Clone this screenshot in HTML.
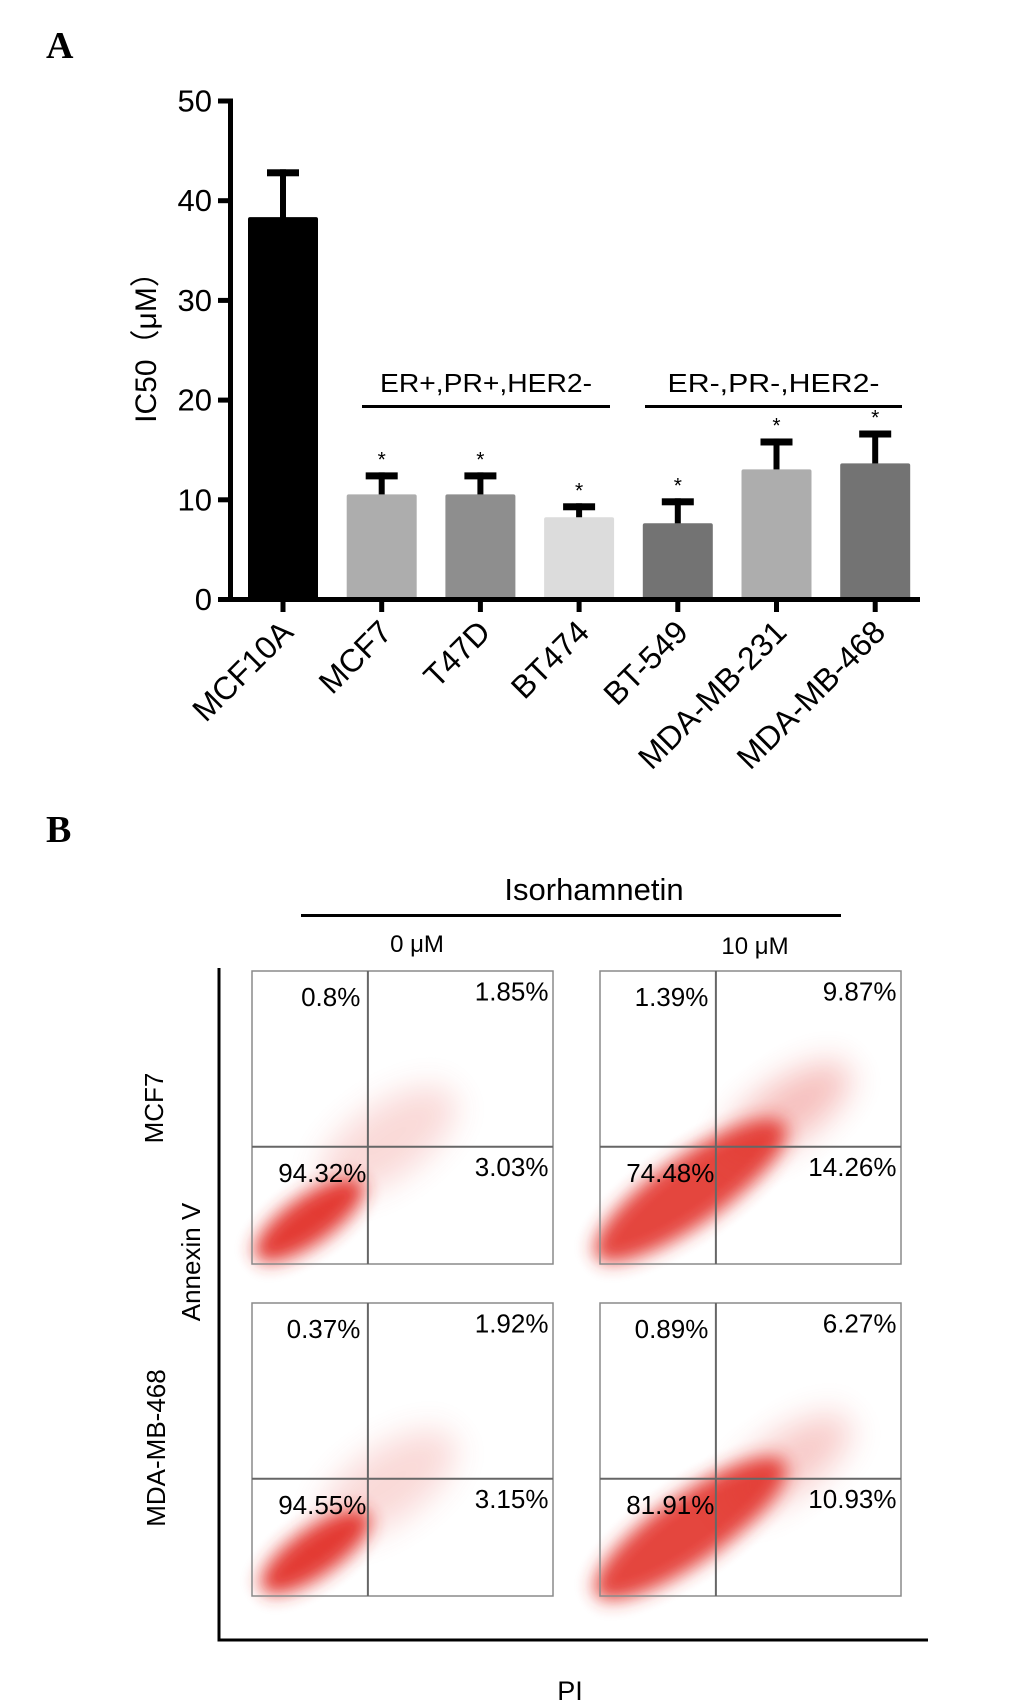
<!DOCTYPE html>
<html><head><meta charset="utf-8"><style>
html,body{margin:0;padding:0;background:#fff;}
svg{display:block;font-family:"Liberation Sans",sans-serif;}
</style></head><body>
<svg id="fig" width="1033" height="1704" viewBox="0 0 1033 1704" xmlns="http://www.w3.org/2000/svg">
<defs>
<filter id="blur1" x="-50%" y="-50%" width="200%" height="200%"><feGaussianBlur stdDeviation="9"/></filter>
<filter id="blur2" x="-50%" y="-50%" width="200%" height="200%"><feGaussianBlur stdDeviation="16"/></filter>
</defs>
<text x="46" y="58" font-family="Liberation Serif,serif" font-weight="bold" font-size="38">A</text>
<text x="46" y="842" font-family="Liberation Serif,serif" font-weight="bold" font-size="38">B</text>
<g id="chartA"></g>
<g id="chartB"></g>
</svg>
<script>
const categories = ["MCF10A","MCF7","T47D","BT474","BT-549","MDA-MB-231","MDA-MB-468"];
const values = [38.3, 10.5, 10.5, 8.2, 7.6, 13.0, 13.6];
const errors = [43.1, 12.7, 12.7, 9.6, 10.1, 16.1, 16.9];
const yTicks = [0,10,20,30,40,50];
const percents = [
  ["0.8%","1.85%","94.32%","3.03%"],
  ["1.39%","9.87%","74.48%","14.26%"],
  ["0.37%","1.92%","94.55%","3.15%"],
  ["0.89%","6.27%","81.91%","10.93%"]
];
const NS="http://www.w3.org/2000/svg";
function mk(tag, attrs, parent, txt){const e=document.createElementNS(NS,tag);for(const k in attrs)e.setAttribute(k,attrs[k]);if(txt!==undefined)e.textContent=txt;parent.appendChild(e);return e;}
const colors=["#000","#adadad","#8e8e8e","#dcdcdc","#737373","#adadad","#737373"];
const Y0=599, PXU=9.97;
function yS(v){return Y0 - v*PXU;}
function xS(i){return 283 + i*98.7;}
const A=document.getElementById('chartA');
categories.forEach((c,i)=>{
  const cx=xS(i), w=70;
  const st=mk('rect',{x:cx-3,y:yS(errors[i]),width:6,height:yS(values[i])-yS(errors[i])+3,fill:'#000'},A);
  
  
  const cap=mk('rect',{x:cx-16,y:yS(errors[i]),width:32,height:7,fill:'#000'},A);
  
  
  const b=mk('rect',{x:cx-w/2,y:yS(values[i]),width:w,height:Y0-yS(values[i]),fill:colors[i],rx:2},A);
  
  
  if(i>0){
    const s=mk('text',{x:cx,y:yS(errors[i])-6,'text-anchor':'middle','font-size':21},A,'*');
    
    
  }
  const t=mk('rect',{x:cx-2.5,y:Y0,width:5,height:13,fill:'#000'},A);
  
  
  const lx=cx+12, ly=634;
  const l=mk('text',{x:lx,y:ly,'text-anchor':'end','font-size':32,transform:`rotate(-45 ${lx} ${ly})`},A,c);
  
  
});
const ya=mk('rect',{x:228,y:yS(50)-2,width:5,height:Y0-yS(50)+4,fill:'#000'},A);


const xa=mk('rect',{x:228,y:Y0-2,width:692,height:5,fill:'#000'},A);


yTicks.forEach(v=>{
  const t=mk('rect',{x:218,y:yS(v)-2,width:12,height:5,fill:'#000'},A);
  
  
  const l=mk('text',{x:212,y:yS(v)+11,'text-anchor':'end','font-size':31},A,String(v));
  
  
});
const yt=mk('text',{x:156,y:340,'text-anchor':'middle','font-size':30,transform:'rotate(-90 156 340)'},A,'IC50（μM）');


[[362,610,'ER+,PR+,HER2-'],[645,902,'ER-,PR-,HER2-']].forEach((g,k)=>{
  const ln=mk('rect',{x:g[0],y:405,width:g[1]-g[0],height:3,fill:'#000'},A);
  
  
  const tx=mk('text',{x:(g[0]+g[1])/2,y:392,'text-anchor':'middle','font-size':26,textLength:212,lengthAdjust:'spacingAndGlyphs'},A,g[2]);
  
  
});
const B=document.getElementById('chartB');
function txt(p,name,x,y,s,str,extra){const e=mk('text',Object.assign({x:x,y:y,'font-size':s},extra||{}),p,str);return e;}
txt(B,'treatment-title',594,900,31,'Isorhamnetin',{'text-anchor':'middle'});
const tl=mk('rect',{x:301,y:914,width:540,height:3,fill:'#000'},B);


txt(B,'dose-0-label',417,952,24,'0 μM',{'text-anchor':'middle'});
txt(B,'dose-10-label',755,954,24,'10 μM',{'text-anchor':'middle'});
const la=mk('path',{d:'M219 968 V1640 H928',fill:'none',stroke:'#000','stroke-width':3},B);


txt(B,'x-axis-title-pi',570,1700,27,'PI',{'text-anchor':'middle'});
txt(B,'y-axis-title-annexin',200,1262,26,'Annexin V',{'text-anchor':'middle',transform:'rotate(-90 200 1262)'});
txt(B,'row-label-mcf7',163,1108,26,'MCF7',{'text-anchor':'middle',transform:'rotate(-90 163 1108)'});
txt(B,'row-label-mda-mb-468',165,1448,26,'MDA-MB-468',{'text-anchor':'middle',transform:'rotate(-90 165 1448)'});
const boxes=[[252,971],[600,971],[252,1303],[600,1303]];
const W=301,H=293;
const clouds=[
 [[0.19,0.85,65,24,0.95],[0.45,0.58,80,36,0.18]],
 [[0.3,0.75,115,34,0.9],[0.62,0.48,75,30,0.3]],
 [[0.21,0.85,65,24,0.95],[0.45,0.62,80,36,0.18]],
 [[0.3,0.77,115,34,0.9],[0.62,0.55,75,30,0.25]]
];
const names=['mcf7-0um','mcf7-10um','mda468-0um','mda468-10um'];
boxes.forEach((bx,i)=>{
  const g=mk('g',{},B);
  
  
  const [x0,y0]=bx;
  clouds[i].forEach((c,j)=>{
    const cx=x0+c[0]*W, cy=y0+c[1]*H;
    const e=mk('ellipse',{cx:cx,cy:cy,rx:c[2],ry:c[3],fill:'#e2302a',opacity:c[4],filter:j==0?'url(#blur1)':'url(#blur2)',transform:`rotate(-35 ${cx} ${cy})`},g);
    
    
  });
  const r=mk('rect',{x:x0,y:y0,width:W,height:H,fill:'none',stroke:'#8a8a8a','stroke-width':1.5},g);
  
  
  const vx=x0+0.385*W, hy=y0+0.6*H;
  const v=mk('line',{x1:vx,y1:y0,x2:vx,y2:y0+H,stroke:'#666','stroke-width':2},g);
  
  
  const h=mk('line',{x1:x0,y1:hy,x2:x0+W,y2:hy,stroke:'#666','stroke-width':2},g);
  
  
  const p=percents[i];
  txt(g,'quadrant-upper-left',x0+0.36*W,y0+0.12*H,26,p[0],{'text-anchor':'end'});
  txt(g,'quadrant-upper-right',x0+0.985*W,y0+0.10*H,26,p[1],{'text-anchor':'end'});
  txt(g,'quadrant-lower-left',x0+0.38*W,y0+0.72*H,26,p[2],{'text-anchor':'end'});
  txt(g,'quadrant-lower-right',x0+0.985*W,y0+0.70*H,26,p[3],{'text-anchor':'end'});
});
</script>
</body></html>
